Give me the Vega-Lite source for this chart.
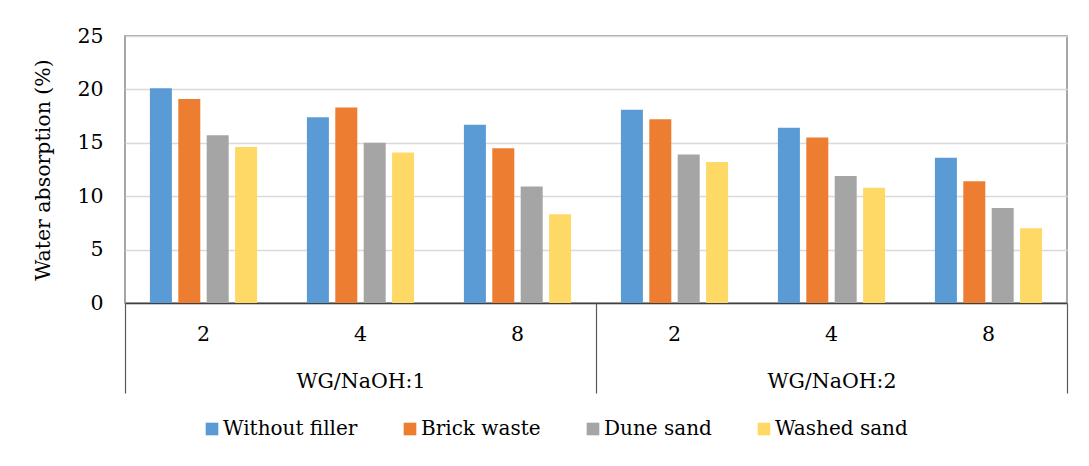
{
  "$schema": "https://vega.github.io/schema/vega-lite/v6.json",
  "width": 942,
  "height": 267,
  "autosize": "none",
  "padding": {"left": 125, "top": 36, "right": 22, "bottom": 163},
  "background": "white",
  "config": {
    "font": "DejaVu Serif",
    "view": {"stroke": "#898989", "strokeWidth": 1.5},
    "axis": {"labelFont": "DejaVu Serif", "titleFont": "DejaVu Serif", "labelColor": "#000000", "titleColor": "#000000", "labelFontSize": 20.5, "titleFontSize": 20.5, "titleFontWeight": "normal"},
    "legend": {"labelFont": "DejaVu Serif", "labelFontSize": 20, "labelColor": "#000000"}
  },
  "data": {
    "values": [
      {"group": "WG/NaOH:1", "cat": "1-2", "filler": "Without filler", "value": 20.1},
      {"group": "WG/NaOH:1", "cat": "1-2", "filler": "Brick waste", "value": 19.1},
      {"group": "WG/NaOH:1", "cat": "1-2", "filler": "Dune sand", "value": 15.7},
      {"group": "WG/NaOH:1", "cat": "1-2", "filler": "Washed sand", "value": 14.6},
      {"group": "WG/NaOH:1", "cat": "1-4", "filler": "Without filler", "value": 17.4},
      {"group": "WG/NaOH:1", "cat": "1-4", "filler": "Brick waste", "value": 18.3},
      {"group": "WG/NaOH:1", "cat": "1-4", "filler": "Dune sand", "value": 15.0},
      {"group": "WG/NaOH:1", "cat": "1-4", "filler": "Washed sand", "value": 14.1},
      {"group": "WG/NaOH:1", "cat": "1-8", "filler": "Without filler", "value": 16.7},
      {"group": "WG/NaOH:1", "cat": "1-8", "filler": "Brick waste", "value": 14.5},
      {"group": "WG/NaOH:1", "cat": "1-8", "filler": "Dune sand", "value": 10.9},
      {"group": "WG/NaOH:1", "cat": "1-8", "filler": "Washed sand", "value": 8.3},
      {"group": "WG/NaOH:2", "cat": "2-2", "filler": "Without filler", "value": 18.1},
      {"group": "WG/NaOH:2", "cat": "2-2", "filler": "Brick waste", "value": 17.2},
      {"group": "WG/NaOH:2", "cat": "2-2", "filler": "Dune sand", "value": 13.9},
      {"group": "WG/NaOH:2", "cat": "2-2", "filler": "Washed sand", "value": 13.2},
      {"group": "WG/NaOH:2", "cat": "2-4", "filler": "Without filler", "value": 16.4},
      {"group": "WG/NaOH:2", "cat": "2-4", "filler": "Brick waste", "value": 15.5},
      {"group": "WG/NaOH:2", "cat": "2-4", "filler": "Dune sand", "value": 11.9},
      {"group": "WG/NaOH:2", "cat": "2-4", "filler": "Washed sand", "value": 10.8},
      {"group": "WG/NaOH:2", "cat": "2-8", "filler": "Without filler", "value": 13.6},
      {"group": "WG/NaOH:2", "cat": "2-8", "filler": "Brick waste", "value": 11.4},
      {"group": "WG/NaOH:2", "cat": "2-8", "filler": "Dune sand", "value": 8.9},
      {"group": "WG/NaOH:2", "cat": "2-8", "filler": "Washed sand", "value": 7.0}
    ]
  },
  "layer": [
    {
      "mark": {"type": "bar"},
      "encoding": {
        "x": {
          "field": "cat", "type": "nominal",
          "scale": {"domain": ["1-2", "1-4", "1-8", "2-2", "2-4", "2-8"], "paddingInner": 0, "paddingOuter": 0},
          "axis": {"orient": "bottom", "title": null, "labelAngle": 0, "ticks": false, "domainColor": "#404040", "domainWidth": 1.5, "labelPadding": 21, "labelExpr": "split(datum.label, '-')[1]", "grid": false}
        },
        "xOffset": {
          "field": "filler", "type": "nominal",
          "scale": {"domain": ["Without filler", "Brick waste", "Dune sand", "Washed sand"], "paddingInner": 0.225, "paddingOuter": 0.877}
        },
        "y": {
          "field": "value", "type": "quantitative",
          "scale": {"domain": [0, 25]},
          "axis": {"title": "Water absorption (%)", "values": [0, 5, 10, 15, 20, 25], "domain": false, "ticks": false, "labelPadding": 22, "gridColor": "#d9d9d9", "gridWidth": 1.3, "titlePadding": 23}
        },
        "color": {
          "field": "filler", "type": "nominal",
          "scale": {"domain": ["Without filler", "Brick waste", "Dune sand", "Washed sand"], "range": ["#5b9bd5", "#ed7d31", "#a5a5a5", "#ffd966"]},
          "legend": {"title": null, "orient": "none", "direction": "horizontal", "legendX": 77, "legendY": 383, "symbolType": "square", "symbolSize": 160, "symbolStrokeWidth": 0, "labelOffset": 1, "columnPadding": 42}
        }
      }
    },
    {
      "data": {"values": [{"group": "WG/NaOH:1"}, {"group": "WG/NaOH:2"}]},
      "mark": {"type": "point", "opacity": 0},
      "encoding": {
        "x": {
          "field": "group", "type": "nominal",
          "scale": {"domain": ["WG/NaOH:1", "WG/NaOH:2"], "paddingInner": 0, "paddingOuter": 0},
          "axis": {"orient": "bottom", "title": null, "labelAngle": 0, "domain": false, "tickBand": "extent", "tickSize": 90, "tickColor": "#595959", "tickWidth": 1.2, "labelPadding": -22, "grid": false}
        }
      }
    }
  ],
  "resolve": {"scale": {"x": "independent"}, "axis": {"x": "independent"}}
}
